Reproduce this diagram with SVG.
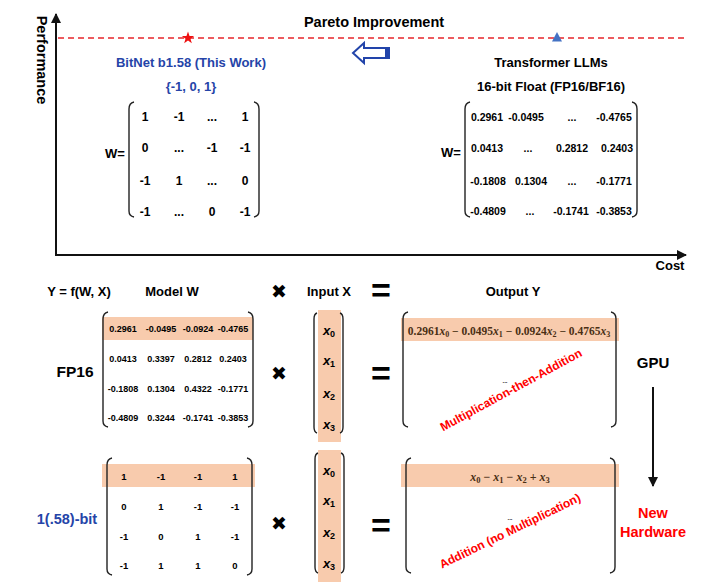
<svg xmlns="http://www.w3.org/2000/svg" width="720" height="586" viewBox="0 0 720 586">
<defs>
<style>
text{font-family:"Liberation Sans",Arial,sans-serif;font-weight:bold;fill:#000}
.c{text-anchor:middle}
.blue{fill:#2544A8}
.red{fill:#FF0000}
.t13{font-size:13px}
.m12{font-size:12px}
.m10{font-size:10.5px}
.m9{font-size:9px}
.m95{font-size:9.5px}
.math{font-family:"Liberation Serif","Times New Roman",serif;font-weight:bold;fill:#4a2f14}
.xi{font-style:italic}
.br{fill:none;stroke:#222;stroke-width:1.4}
.hl{fill:#F8CBAD}
.ax{stroke:#111;stroke-width:2;fill:none}
.sym{font-family:"DejaVu Sans",sans-serif;font-size:19px}
.eq{font-size:34px}
</style>
<marker id="ah" viewBox="0 0 10 10" refX="9" refY="5" markerWidth="5" markerHeight="5" orient="auto"><path d="M0,0 L10,5 L0,10 z" fill="#111"/></marker>
</defs>
<rect width="720" height="586" fill="#fff"/>

<g id="connectors">
<line class="ax" x1="56" y1="256" x2="56" y2="14" marker-end="url(#ah)"/>
<line class="ax" x1="55" y1="255" x2="686" y2="255" marker-end="url(#ah)"/>
<line x1="58" y1="38" x2="686" y2="38" stroke="#E8262B" stroke-width="1.5" stroke-dasharray="6,4"/>
<line x1="653" y1="387" x2="653" y2="486" stroke="#111" stroke-width="2" marker-end="url(#ah)"/>
<polygon points="353,53 364,43 364,48 389,48 389,58 364,58 364,63" fill="#fff" stroke="#2244AA" stroke-width="2" stroke-linejoin="miter"/>
<rect x="385" y="48" width="5" height="10" fill="#2244AA"/>
</g>

<g id="axes-labels">
<text class="c" x="0" y="0" transform="translate(37 60) rotate(90)" font-size="14.5">Performance</text>
<text class="c t13" x="670" y="270">Cost</text>
<text class="c" x="374" y="27" font-size="14.5">Pareto Improvement</text>
</g>

<g id="markers">
<polygon points="188,31.5 189.53,35.9 194.18,35.99 190.47,38.8 191.82,43.26 188,40.6 184.18,43.26 185.53,38.8 181.82,35.99 186.47,35.9" fill="#EE1111"/>
<polygon points="557,32 562,41.5 552,41.5" fill="#4472C4"/>
</g>

<g id="bitnet-top">
<text class="c t13 blue" x="191" y="67">BitNet b1.58 (This Work)</text>
<text class="c t13 blue" x="191" y="91">{-1, 0, 1}</text>
<text class="c t13" x="115" y="158">W=</text>
<path class="br" d="M134,102 Q129,103 129,109 L129,211 Q129,216 134,217"/>
<path class="br" d="M254,102 Q259,103 259,109 L259,211 Q259,216 254,217"/>
<g class="m12">
<text class="c" x="145" y="121">1</text><text class="c" x="179" y="121">-1</text><text class="c" x="212" y="121">...</text><text class="c" x="245" y="121">1</text>
<text class="c" x="145" y="152">0</text><text class="c" x="179" y="152">...</text><text class="c" x="212" y="152">-1</text><text class="c" x="245" y="152">-1</text>
<text class="c" x="145" y="185">-1</text><text class="c" x="179" y="185">1</text><text class="c" x="212" y="185">...</text><text class="c" x="245" y="185">0</text>
<text class="c" x="145" y="216">-1</text><text class="c" x="179" y="216">...</text><text class="c" x="212" y="216">0</text><text class="c" x="245" y="216">-1</text>
</g>
</g>

<g id="transformer-top">
<text class="c t13" x="551" y="67">Transformer LLMs</text>
<text class="c t13" x="551" y="91">16-bit Float (FP16/BF16)</text>
<text class="c t13" x="451" y="157">W=</text>
<path class="br" d="M470,102 Q465,103 465,109 L465,211 Q465,216 470,217"/>
<path class="br" d="M632,102 Q637,103 637,109 L637,211 Q637,216 632,217"/>
<g class="m10">
<text class="c" x="487" y="121">0.2961</text><text class="c" x="526" y="121">-0.0495</text><text class="c" x="572" y="121">...</text><text class="c" x="614" y="121">-0.4765</text>
<text class="c" x="487" y="152">0.0413</text><text class="c" x="528" y="152">...</text><text class="c" x="572" y="152">0.2812</text><text class="c" x="617" y="152">0.2403</text>
<text class="c" x="488" y="185">-0.1808</text><text class="c" x="531" y="185">0.1304</text><text class="c" x="572" y="185">...</text><text class="c" x="614" y="185">-0.1771</text>
<text class="c" x="488" y="215">-0.4809</text><text class="c" x="530" y="215">...</text><text class="c" x="571" y="215">-0.1741</text><text class="c" x="614" y="215">-0.3853</text>
</g>
</g>

<g id="headers">
<text class="c t13" x="79" y="296">Y = f(W, X)</text>
<text class="c t13" x="172" y="296">Model W</text>
<text class="c sym" x="279" y="298">✖</text>
<text class="c t13" x="329" y="296">Input X</text>
<text class="c eq" x="381" y="302">=</text>
<text class="c t13" x="513" y="296">Output Y</text>
</g>

<g id="fp16-row">
<text class="c" x="75" y="377" font-size="15.5">FP16</text>
<rect class="hl" x="102" y="317" width="151" height="23"/>
<path class="br" d="M108,312 Q103,313 103,319 L103,421 Q103,426 108,427"/>
<path class="br" d="M248,312 Q253,313 253,319 L253,421 Q253,426 248,427"/>
<g class="m9">
<text class="c" x="123" y="332">0.2961</text><text class="c" x="161" y="332">-0.0495</text><text class="c" x="198" y="332">-0.0924</text><text class="c" x="233" y="332">-0.4765</text>
<text class="c" x="123" y="362">0.0413</text><text class="c" x="161" y="362">0.3397</text><text class="c" x="198" y="362">0.2812</text><text class="c" x="233" y="362">0.2403</text>
<text class="c" x="123" y="392">-0.1808</text><text class="c" x="161" y="392">0.1304</text><text class="c" x="198" y="392">0.4322</text><text class="c" x="233" y="392">-0.1771</text>
<text class="c" x="123" y="421">-0.4809</text><text class="c" x="161" y="421">0.3244</text><text class="c" x="198" y="421">-0.1741</text><text class="c" x="233" y="421">-0.3853</text>
</g>
<text class="c sym" x="279" y="380">✖</text>
<rect class="hl" x="318" y="310" width="23" height="132"/>
<path class="br" d="M317,313 Q314,314 314,319 L314,427 Q314,432 317,433"/>
<path class="br" d="M340,313 Q343,314 343,319 L343,427 Q343,432 340,433"/>
<g class="math" font-size="13">
<text class="c" x="329" y="335"><tspan class="xi">x</tspan><tspan font-size="9" dy="2">0</tspan></text>
<text class="c" x="329" y="365"><tspan class="xi">x</tspan><tspan font-size="9" dy="2">1</tspan></text>
<text class="c" x="329" y="398"><tspan class="xi">x</tspan><tspan font-size="9" dy="2">2</tspan></text>
<text class="c" x="329" y="429"><tspan class="xi">x</tspan><tspan font-size="9" dy="2">3</tspan></text>
</g>
<text class="c eq" x="381" y="385">=</text>
<rect class="hl" x="401" y="318" width="218" height="23"/>
<path class="br" d="M408,312 Q403,313 403,319 L403,421 Q403,426 408,427"/>
<path class="br" d="M611,312 Q616,313 616,319 L616,421 Q616,426 611,427"/>
<text class="c math" x="509" y="335" font-size="11.5">0.2961<tspan class="xi">x</tspan><tspan font-size="8" dy="2">0</tspan><tspan dy="-2"> − 0.0495</tspan><tspan class="xi">x</tspan><tspan font-size="8" dy="2">1</tspan><tspan dy="-2"> − 0.0924</tspan><tspan class="xi">x</tspan><tspan font-size="8" dy="2">2</tspan><tspan dy="-2"> − 0.4765</tspan><tspan class="xi">x</tspan><tspan font-size="8" dy="2">3</tspan></text>
<text class="c" x="505" y="383" font-size="6">...</text>
<text class="c red m12" x="511" y="394" transform="rotate(-28.5 511 390)">Multiplication-then-Addition</text>
<text class="c" x="653" y="368" font-size="15">GPU</text>
</g>

<g id="bit-row">
<text class="c blue" x="67" y="524" font-size="14.5">1(.58)-bit</text>
<rect class="hl" x="102" y="464" width="153" height="23"/>
<path class="br" d="M112,458 Q107,459 107,465 L107,569 Q107,574 112,575"/>
<path class="br" d="M247,458 Q252,459 252,465 L252,569 Q252,574 247,575"/>
<g class="m95">
<text class="c" x="124" y="480">1</text><text class="c" x="161" y="480">-1</text><text class="c" x="198" y="480">-1</text><text class="c" x="235" y="480">1</text>
<text class="c" x="124" y="510">0</text><text class="c" x="161" y="510">1</text><text class="c" x="198" y="510">-1</text><text class="c" x="235" y="510">-1</text>
<text class="c" x="124" y="540">-1</text><text class="c" x="161" y="540">0</text><text class="c" x="198" y="540">1</text><text class="c" x="235" y="540">-1</text>
<text class="c" x="124" y="569">-1</text><text class="c" x="161" y="569">1</text><text class="c" x="198" y="569">1</text><text class="c" x="235" y="569">0</text>
</g>
<text class="c sym" x="279" y="530">✖</text>
<rect class="hl" x="318" y="450" width="23" height="132"/>
<path class="br" d="M318,453 Q315,454 315,459 L315,567 Q315,572 318,573"/>
<path class="br" d="M341,453 Q344,454 344,459 L344,567 Q344,572 341,573"/>
<g class="math" font-size="13">
<text class="c" x="329" y="475"><tspan class="xi">x</tspan><tspan font-size="9" dy="2">0</tspan></text>
<text class="c" x="329" y="505"><tspan class="xi">x</tspan><tspan font-size="9" dy="2">1</tspan></text>
<text class="c" x="329" y="537"><tspan class="xi">x</tspan><tspan font-size="9" dy="2">2</tspan></text>
<text class="c" x="329" y="568"><tspan class="xi">x</tspan><tspan font-size="9" dy="2">3</tspan></text>
</g>
<text class="c eq" x="381" y="537">=</text>
<rect class="hl" x="401" y="464" width="218" height="23"/>
<path class="br" d="M411,458 Q406,459 406,465 L406,567 Q406,572 411,573"/>
<path class="br" d="M610,458 Q615,459 615,465 L615,567 Q615,572 610,573"/>
<text class="c math" x="510" y="481" font-size="12"><tspan class="xi">x</tspan><tspan font-size="8.5" dy="2">0</tspan><tspan dy="-2"> − </tspan><tspan class="xi">x</tspan><tspan font-size="8.5" dy="2">1</tspan><tspan dy="-2"> − </tspan><tspan class="xi">x</tspan><tspan font-size="8.5" dy="2">2</tspan><tspan dy="-2"> + </tspan><tspan class="xi">x</tspan><tspan font-size="8.5" dy="2">3</tspan></text>
<text class="c" x="510" y="520" font-size="6">...</text>
<text class="c red m12" x="510" y="535" transform="rotate(-26 510 531)">Addition (no Multiplication)</text>
<text class="c red" x="653" y="518" font-size="14.5">New</text>
<text class="c red" x="653" y="537" font-size="14.5">Hardware</text>
</g>
</svg>
